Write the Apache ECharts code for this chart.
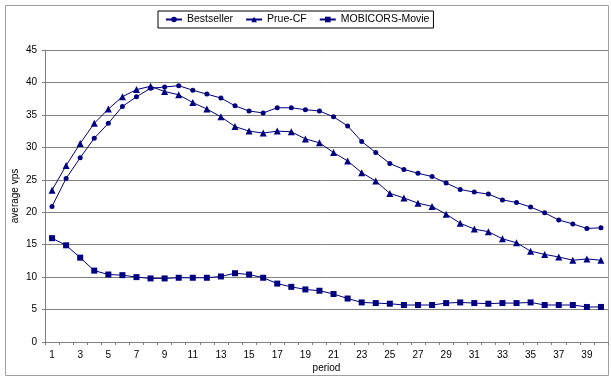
<!DOCTYPE html>
<html>
<head>
<meta charset="utf-8">
<script src="https://cdn.jsdelivr.net/npm/echarts@6/dist/echarts.min.js"></script>
<style>html,body{margin:0;padding:0;background:#fff}#c{width:611px;height:378px}</style>
</head>
<body>
<div id="c"></div>
<script>
var periods = [];
for (var i = 1; i <= 40; i++) periods.push(String(i));
var seriesNames = ['Bestseller', 'Prue-CF', 'MOBICORS-Movie'];
var bestseller = [20.9,25.2,28.4,31.4,33.7,36.3,37.8,39.1,39.3,39.5,38.8,38.2,37.6,36.4,35.6,35.3,36.1,36.1,35.8,35.6,34.7,33.3,30.9,29.2,27.5,26.6,26.0,25.5,24.5,23.5,23.1,22.8,21.9,21.5,20.8,19.9,18.8,18.2,17.5,17.6];
var prueCF = [23.4,27.2,30.6,33.7,35.9,37.8,38.9,39.4,38.6,38.1,36.9,35.9,34.7,33.2,32.5,32.2,32.5,32.4,31.3,30.7,29.2,27.9,26.1,24.8,22.9,22.2,21.4,20.9,19.7,18.3,17.4,17.0,15.9,15.3,14.0,13.5,13.1,12.6,12.8,12.6];
var mobicors = [16.0,14.9,13.0,11.0,10.4,10.3,10.0,9.8,9.8,9.9,9.9,9.9,10.1,10.6,10.4,9.9,9.0,8.5,8.1,7.9,7.4,6.7,6.1,6.0,5.9,5.7,5.7,5.7,6.0,6.1,6.0,5.9,6.0,6.0,6.1,5.7,5.7,5.7,5.4,5.4];

var navy = '#000080';
var font = 'Liberation Sans, Arial, sans-serif';
function mk(name, data, symbol, size) {
  return {
    name: name, type: 'line', data: data, symbol: symbol, symbolSize: size,
    lineStyle: {color: navy, width: 1}, itemStyle: {color: navy},
    emphasis: {disabled: true}, animation: false
  };
}
var chart = echarts.init(document.getElementById('c'));
chart.setOption({
  animation: false,
  backgroundColor: '#fff',
  graphic: [{
    type: 'rect', shape: {x: 5.5, y: 5.5, width: 603, height: 370},
    style: {fill: 'none', stroke: '#a0a0a0', lineWidth: 1}, silent: true, z: -1
  }],
  legend: {
    left: 158, top: 11,
    data: seriesNames,
    itemWidth: 16, itemHeight: 7, itemGap: 12,
    padding: [3, 4, 3, 7],
    borderColor: '#000', borderWidth: 1,
    textStyle: {fontFamily: font, fontSize: 10.5, color: '#000'}
  },
  grid: {left: 45, right: 3, top: 50, bottom: 36, containLabel: false, outerBoundsMode: 'none'},
  xAxis: {
    type: 'category', data: periods, boundaryGap: true,
    name: 'period', nameLocation: 'middle', nameGap: 21, nameMoveOverlap: false,
    nameTextStyle: {fontFamily: font, fontSize: 10, color: '#000'},
    axisLine: {lineStyle: {color: '#808080', width: 1}},
    axisTick: {show: true, interval: 0, length: 3, lineStyle: {color: '#808080'}},
    axisLabel: {interval: 1, fontFamily: font, fontSize: 10, color: '#000', margin: 8},
    splitLine: {show: false}
  },
  yAxis: {
    type: 'value', min: 0, max: 45, interval: 5,
    name: 'average vps', nameLocation: 'middle', nameGap: 25, nameRotate: 90, nameMoveOverlap: false,
    nameTextStyle: {fontFamily: font, fontSize: 10, color: '#000'},
    axisLine: {show: true, lineStyle: {color: '#808080', width: 1}},
    axisTick: {show: true, length: 3, lineStyle: {color: '#808080'}},
    axisLabel: {fontFamily: font, fontSize: 10, color: '#000', margin: 8},
    splitLine: {show: true, lineStyle: {color: '#808080', width: 1}}
  },
  series: [
    mk(seriesNames[0], bestseller, 'circle', 5),
    mk(seriesNames[1], prueCF, 'triangle', 7),
    mk(seriesNames[2], mobicors, 'rect', 6)
  ]
});
</script>
</body>
</html>
